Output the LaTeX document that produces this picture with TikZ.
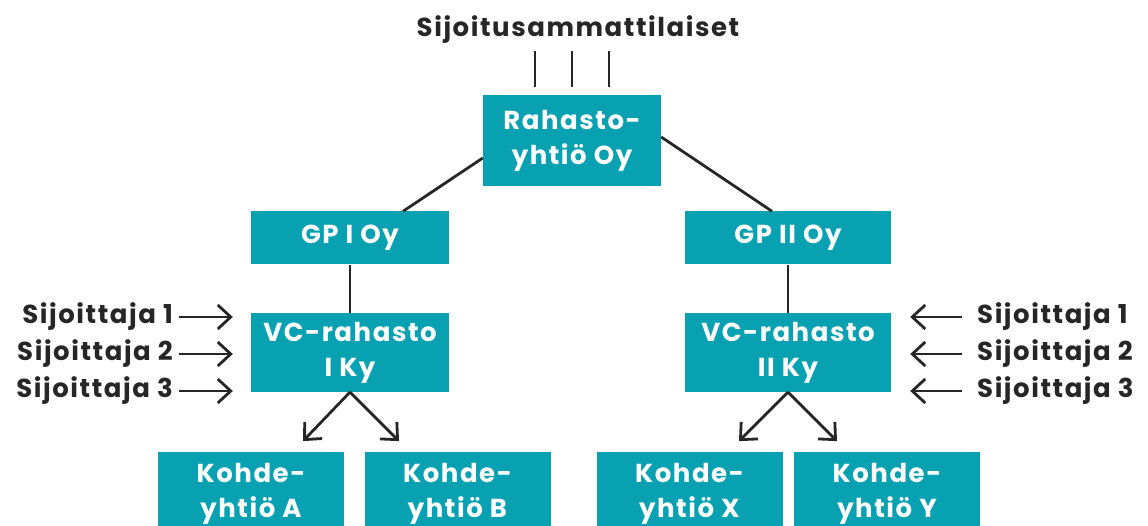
\documentclass[tikz,border=0pt]{standalone}
\usepackage{fontspec}
\setmainfont{Poppins}[LetterSpace=6]
\usetikzlibrary{positioning, arrows.meta}
\definecolor{tealbox}{HTML}{07A1B2}
\definecolor{darkink}{HTML}{262626}
\gdef\Bfill{tealbox}
\gdef\Ink{darkink}

\begin{document}
\begin{tikzpicture}[x=1pt, y=1pt, node distance=48pt,
  box/.style={rectangle, fill=\Bfill, text=white, align=center, inner sep=0pt, font=\fontsize{26}{35}\selectfont\bfseries},
  lbl/.style={text=\Ink, inner sep=0pt, font=\fontsize{26}{31}\selectfont\bfseries},
  link/.style={draw=\Ink, line width=2.8pt},
  arr/.style={link, -{Straight Barb[length=13pt, width=24pt]}}]
\useasboundingbox (0,0) rectangle (1148,526);

\node[lbl] (top) at (578,496) {Sijoitusammattilaiset};
\node[box, minimum width=178pt, minimum height=91pt] (R) at (572,385.5) {Rahasto-\\yhtiö Oy};
\node[box, minimum width=198pt, minimum height=53pt] (G1) at (350,288) {GP I Oy};
\node[box, minimum width=206pt, minimum height=53pt] (G2) at (788,288) {GP II Oy};
\node[box, minimum width=198pt, minimum height=79pt] (V1) [below=of G1] {VC-rahasto\\I Ky};
\node[box, minimum width=206pt, minimum height=79pt] (V2) [below=of G2] {VC-rahasto\\II Ky};
\node[box, minimum width=186pt, minimum height=84pt] (KA) at (251,32) {Kohde-\\yhtiö A};
\node[box, minimum width=186pt, minimum height=84pt] (KB) at (457.5,32) {Kohde-\\yhtiö B};
\node[box, minimum width=186pt, minimum height=84pt] (KX) at (689.5,32) {Kohde-\\yhtiö X};
\node[box, minimum width=186pt, minimum height=84pt] (KY) at (887,32) {Kohde-\\yhtiö Y};

\node[lbl, anchor=east] (L1) at (173,209) {Sijoittaja 1};
\node[lbl, anchor=east] (L2) at (173,172) {Sijoittaja 2};
\node[lbl, anchor=east] (L3) at (173,135) {Sijoittaja 3};
\node[lbl, anchor=west] (P1) at (977,209) {Sijoittaja 1};
\node[lbl, anchor=west] (P2) at (977,172) {Sijoittaja 2};
\node[lbl, anchor=west] (P3) at (977,135) {Sijoittaja 3};

\foreach \dx in {-37,0,37}
  \draw[link] ([xshift=\dx pt, yshift=8pt]R.north) -- ++(0,36);

\draw[link] ([yshift=-17.5pt]R.west) -- ([xshift=53pt]G1.north);
\draw[link] ([yshift=3.5pt]R.east) -- ([xshift=-16pt]G2.north);
\draw[link] (G1) -- (V1);
\draw[link] (G2) -- (V2);

\draw[arr] (V1.south) -- ++(-47,-49);
\draw[arr] (V1.south) -- ++(49,-49);
\draw[arr] (V2.south) -- ++(-49,-49);
\draw[arr] (V2.south) -- ++(49,-49);

\foreach \s in {L1,L2,L3}
  \draw[arr, shorten <=6pt, shorten >=18pt] (\s.east) -- (\s.east -| V1.west);
\foreach \s in {P1,P2,P3}
  \draw[arr, shorten <=15pt, shorten >=19pt] (\s.west) -- (\s.west -| V2.east);
\end{tikzpicture}
\end{document}
